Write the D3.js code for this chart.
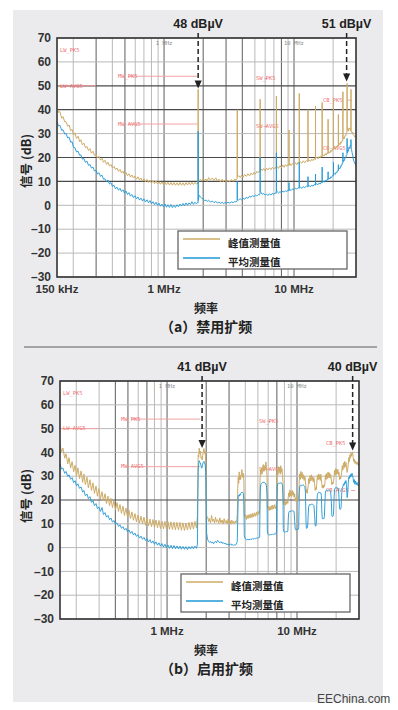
<!DOCTYPE html>
<html>
<head>
<meta charset="utf-8">
<script src="https://cdn.jsdelivr.net/npm/d3@7/dist/d3.min.js"></script>
<style>
  html, body { margin: 0; padding: 0; background: #fff; }
  svg { display: block; }
  text { font-family: "Liberation Sans", Arial, sans-serif; }
  .cjk { font-family: "Noto Sans CJK SC", "Noto Sans", sans-serif; }
  .mono { font-family: "DejaVu Sans Mono", monospace; }
</style>
</head>
<body>
<svg id="fig" width="398" height="710"></svg>
<script>
/* EMI scan, spread spectrum off (a) / on (b) */

const PEAK_COLOR = "#cdab66";
const AVG_COLOR  = "#2199d6";

// axes
const DB_TICKS   = [70, 60, 50, 40, 30, 20, 10, 0, -10, -20, -30];
const GRID_FREQS = [0.2,0.3,0.4,0.5,0.6,0.7,0.8,0.9,1,2,3,4,5,6,7,8,9,10,20];
const X_TICKS_A  = [0.15, 1, 10];
const X_LABELS_A = ["150 kHz", "1 MHz", "10 MHz"];
const X_TICKS_B  = [1, 10];
const X_LABELS_B = ["1 MHz", "10 MHz"];
const PLOT_MARKS = [[1, "1 MHz"], [10, "10 MHz"]];

// CISPR limit lines and their tags
const LIMITS = [
  [0.15, 0.3, 50], [0.53, 1.8, 54], [0.53, 1.8, 34],
  [5.9, 6.2, 53], [5.9, 6.2, 33], [26, 28, 44], [26, 28, 24],
];
const LIMIT_TAGS = [
  ["LW_PK5", 0.158, 65], ["LW-AVG5", 0.158, 50], ["MW_PK5", 0.442, 54], ["MW-AVG5", 0.442, 34],
  ["SW_PK5", 5.1, 53], ["SW-AVG5", 5.1, 33], ["CB_PK5", 16.7, 44], ["CB-AVG5", 16.7, 24],
];

const LEGEND = [["峰值测量值", PEAK_COLOR], ["平均测量值", AVG_COLOR]];

// marked peaks: [MHz, dBuV, label]
const MARKS_A = [[1.83, 48, "48 dBµV"], [25.4, 51, "51 dBµV"]];
const MARKS_B = [[1.86, 41, "41 dBµV"], [26.8, 40, "40 dBµV"]];

// low band frequency grid (MHz), shared by the left part of every trace
const FREQ_LOW = [
  0.150,0.154,0.158,0.163,0.167,0.172,0.176,0.181,0.186,0.191,
  0.196,0.201,0.206,0.212,0.218,0.224,0.229,0.235,0.242,0.248,
  0.255,0.262,0.269,0.276,0.284,0.291,0.299,0.307,0.316,0.324,
  0.333,0.342,0.351,0.361,0.370,0.380,0.390,0.401,0.412,0.423,
  0.434,0.446,0.458,0.470,0.483,0.496,0.509,0.523,0.537,0.551,
  0.566,0.581,0.597,0.613,0.630,0.647,0.664,0.682,0.700,0.719,
  0.739,0.759,0.779,0.800,0.822,0.844,0.866,0.890,0.914,0.938,
  0.963,0.989,1.016,1.043,1.071,1.100,1.130,1.160,1.191,1.224,
  1.257,1.290,1.325,1.361,1.397,1.435,1.474,1.513,1.554,1.596,
  1.639,1.683,1.728,
];

// (a) spread spectrum off
const PEAK_LOW_A = [
  40.6,38.9,39.2,36.4,37.1,34.9,35.0,33.1,33.6,31.2,
  31.8,29.4,30.3,28.0,28.9,26.6,27.4,25.3,26.0,24.1,
  24.6,22.9,23.7,21.8,22.6,20.9,21.4,19.8,20.5,18.9,
  19.6,18.0,18.8,17.1,18.0,16.4,17.1,15.6,16.3,14.9,
  15.6,14.2,15.0,13.5,14.3,12.9,13.8,12.4,13.2,11.8,
  12.7,11.4,12.3,10.9,11.9,10.6,11.4,10.1,11.1,9.8,
  10.8,9.6,10.5,9.3,10.4,9.1,10.2,9.0,9.9,8.8,
  9.8,8.7,9.7,8.6,9.6,8.5,9.6,8.4,9.5,8.4,
  9.4,8.3,9.5,8.4,9.4,8.3,9.5,8.5,9.6,8.6,
  9.7,8.7,9.6,
];
const AVG_LOW_A = [
  35.0,33.2,33.5,31.4,31.6,29.8,30.1,28.2,28.5,26.4,
  26.6,24.2,24.1,22.3,22.6,20.9,21.1,19.3,19.6,18.0,
  18.5,16.7,17.1,15.6,16.0,14.4,14.6,13.1,13.6,12.1,
  12.6,10.9,11.1,9.8,10.6,8.9,9.5,7.9,8.4,6.9,
  7.6,6.3,7.1,5.8,6.5,5.1,6.0,4.5,5.3,3.9,
  4.5,3.2,4.0,2.7,3.5,2.2,3.0,1.8,2.7,1.4,
  2.3,1.1,2.0,0.6,1.5,0.3,1.3,0.0,0.9,-0.4,
  0.5,-0.6,0.6,-0.8,0.2,-0.9,0.3,-1.0,0.0,-0.9,
  0.2,-0.6,0.5,-0.3,0.8,-0.2,1.0,0.0,1.0,0.3,
  1.5,0.4,1.3,
];
const PEAK_HIGH_A = [
  [1.775,8.8],[1.815,9.4],[1.826,9.0],[1.830,48.5],[1.834,9.6],[1.86,10.4],[1.9,10.9],[1.95,10.1],
  [2.0,11.2],[2.05,10.4],[2.1,11.0],[2.15,10.0],[2.2,11.6],[2.27,10.6],[2.35,11.4],[2.42,10.4],
  [2.5,11.5],[2.57,10.2],[2.65,10.9],[2.72,9.8],[2.8,10.9],[2.87,9.9],[2.95,10.6],[3.02,9.7],
  [3.1,10.5],[3.2,9.8],[3.3,10.8],[3.4,10.0],[3.5,11.0],[3.58,10.6],[3.652,11.2],[3.660,40.0],
  [3.668,11.8],[3.75,12.4],[3.85,11.6],[3.95,12.6],[4.05,11.7],[4.17,12.9],[4.3,12.1],[4.42,13.2],
  [4.55,12.3],[4.67,13.5],[4.8,12.7],[4.92,13.8],[5.05,13.0],[5.17,14.2],[5.3,13.6],[5.4,14.3],
  [5.48,14.0],[5.49,44.4],[5.50,14.6],[5.6,15.2],[5.7,14.5],[5.85,15.4],[6.0,14.3],[6.15,15.5],
  [6.3,14.8],[6.47,15.7],[6.65,14.9],[6.82,15.9],[7.0,15.2],[7.15,15.8],[7.31,15.4],[7.32,45.7],
  [7.33,15.9],[7.45,16.2],[7.6,15.4],[7.8,16.5],[8.0,15.8],[8.2,16.9],[8.4,15.9],[8.6,17.0],
  [8.8,16.3],[9.0,17.1],[9.14,16.6],[9.15,31.5],[9.16,16.9],[9.3,17.4],[9.5,16.6],[9.75,17.6],
  [10.0,16.9],[10.25,17.8],[10.5,17.0],[10.75,18.0],[10.97,17.4],[10.98,46.8],[10.99,17.9],[11.2,18.2],
  [11.5,17.6],[11.8,18.6],[12.1,17.8],[12.45,18.7],[12.8,18.2],[12.81,40.0],[12.82,18.6],[13.1,19.0],
  [13.4,18.4],[13.7,19.3],[14.0,18.7],[14.3,19.6],[14.62,19.1],[14.64,41.5],[14.66,19.6],[15.0,20.1],
  [15.3,19.5],[15.6,20.4],[15.9,19.9],[16.2,20.8],[16.45,20.2],[16.47,43.0],[16.49,20.9],[16.8,21.1],
  [17.1,20.6],[17.4,21.6],[17.7,21.0],[18.0,22.0],[18.28,21.5],[18.30,36.0],[18.32,22.0],[18.6,22.4],
  [18.9,21.9],[19.2,23.0],[19.5,22.5],[19.8,23.6],[20.11,23.2],[20.13,44.3],[20.15,23.9],[20.5,24.2],
  [20.8,23.6],[21.1,24.6],[21.4,24.1],[21.7,25.2],[21.94,24.8],[21.96,38.0],[21.98,25.4],[22.3,25.9],
  [22.6,25.3],[22.9,26.5],[23.2,26.0],[23.5,27.2],[23.77,27.0],[23.79,47.5],[23.81,27.8],[24.1,28.4],
  [24.4,27.9],[24.7,29.2],[25.0,29.0],[25.3,30.4],[25.59,30.6],[25.62,51.0],[25.65,31.4],[25.9,31.8],
  [26.2,31.0],[26.5,32.4],[26.8,31.8],[27.1,32.2],[27.42,31.2],[27.45,48.5],[27.48,30.8],[27.7,31.0],
  [28.0,30.2],[28.3,30.6],[28.6,29.6],[29.0,29.2],[29.4,28.6],[30.0,28.8],
];
const AVG_HIGH_A = [
  [1.775,0.6],[1.815,1.2],[1.826,1.0],[1.830,31.0],[1.834,2.0],[1.86,4.2],[1.9,3.6],[1.95,3.0],
  [2.0,2.6],[2.05,2.0],[2.1,2.2],[2.15,1.6],[2.2,2.1],[2.27,1.4],[2.35,1.8],[2.42,1.1],
  [2.5,1.6],[2.57,1.0],[2.65,1.4],[2.72,0.8],[2.8,1.3],[2.87,0.7],[2.95,1.2],[3.02,0.8],
  [3.1,1.3],[3.2,0.9],[3.3,1.4],[3.4,1.1],[3.5,1.6],[3.58,1.4],[3.652,1.8],[3.660,10.0],
  [3.668,2.4],[3.75,2.2],[3.85,2.8],[3.95,2.2],[4.05,3.0],[4.17,2.5],[4.3,3.4],[4.42,2.9],
  [4.55,3.8],[4.67,3.4],[4.8,4.1],[4.92,3.6],[5.05,4.2],[5.17,3.9],[5.3,4.5],[5.4,4.3],
  [5.48,4.6],[5.49,20.0],[5.50,5.8],[5.6,5.2],[5.7,4.6],[5.85,4.9],[6.0,4.3],[6.15,4.7],
  [6.3,4.1],[6.47,4.8],[6.65,4.3],[6.82,5.0],[7.0,4.6],[7.15,5.2],[7.31,5.0],[7.32,22.0],
  [7.33,6.0],[7.45,5.6],[7.6,5.2],[7.8,5.7],[8.0,5.3],[8.2,5.9],[8.4,5.5],[8.6,6.1],
  [8.8,5.8],[9.0,6.3],[9.14,6.0],[9.15,9.5],[9.16,6.3],[9.3,6.6],[9.5,6.2],[9.75,6.9],
  [10.0,6.5],[10.25,7.2],[10.5,6.8],[10.75,7.4],[10.97,7.1],[10.98,18.0],[10.99,7.6],[11.2,7.6],
  [11.5,7.1],[11.8,7.8],[12.1,7.4],[12.45,8.0],[12.8,7.7],[12.81,12.0],[12.82,8.0],[13.1,8.2],
  [13.4,7.8],[13.7,8.4],[14.0,8.0],[14.3,8.7],[14.62,8.4],[14.64,13.0],[14.66,8.8],[15.0,9.0],
  [15.3,8.6],[15.6,9.3],[15.9,8.9],[16.2,9.6],[16.45,9.3],[16.47,16.0],[16.49,9.8],[16.8,10.0],
  [17.1,9.6],[17.4,10.4],[17.7,10.1],[18.0,10.9],[18.28,10.6],[18.30,14.0],[18.32,11.0],[18.6,11.4],
  [18.9,11.0],[19.2,11.9],[19.5,11.6],[19.8,12.5],[20.11,12.3],[20.13,18.0],[20.15,12.8],[20.5,13.2],
  [20.8,12.9],[21.1,13.9],[21.4,13.7],[21.7,14.6],[21.94,14.4],[21.96,17.0],[21.98,15.0],[22.3,15.6],
  [22.6,15.3],[22.9,16.5],[23.2,16.4],[23.5,17.6],[23.77,17.6],[23.79,22.0],[23.81,18.2],[24.1,19.0],
  [24.4,18.7],[24.7,20.0],[25.0,19.8],[25.3,21.0],[25.59,21.2],[25.62,28.0],[25.65,22.0],[25.9,23.0],
  [26.2,22.6],[26.5,24.2],[26.8,23.8],[27.1,25.0],[27.42,24.6],[27.45,27.5],[27.48,24.0],[27.7,23.4],
  [28.0,22.0],[28.3,21.0],[28.6,19.4],[29.0,18.2],[29.4,17.4],[30.0,16.8],
];

// (b) spread spectrum on
const PEAK_LOW_B = [
  43.5,40.2,41.8,37.6,39.4,35.2,37.8,33.4,36.1,31.9,
  34.6,30.2,33.5,29.0,32.2,27.4,30.9,26.5,29.6,25.1,
  28.5,24.0,27.2,22.8,25.9,21.6,24.8,20.4,23.5,19.6,
  22.6,18.5,21.6,17.6,20.7,16.8,19.8,15.8,18.9,15.2,
  18.1,14.4,17.4,13.5,16.6,12.8,15.7,12.2,15.0,11.5,
  14.3,10.8,13.7,10.3,13.2,9.9,12.8,9.4,12.4,9.1,
  12.0,8.8,11.8,8.5,11.6,8.3,11.4,8.0,11.1,7.9,
  11.0,7.8,10.9,7.7,10.8,7.6,10.7,7.5,10.6,7.5,
  10.6,7.3,10.4,7.2,10.3,7.4,10.6,7.6,10.8,7.8,
  11.0,8.2,
];
const AVG_LOW_B = [
  35.2,33.0,33.4,31.2,32.0,29.9,30.6,28.7,29.4,27.3,
  28.1,26.0,26.8,24.9,25.5,23.3,24.0,21.8,22.5,20.6,
  21.4,19.0,19.8,17.6,18.5,16.4,17.0,15.2,16.8,13.9,
  14.7,12.8,13.5,11.7,12.4,10.7,11.4,9.8,10.4,8.9,
  9.6,8.1,8.8,7.4,8.1,6.7,7.4,6.0,6.8,5.3,
  6.1,4.7,5.4,4.0,4.8,3.5,4.3,3.0,3.8,2.4,
  3.3,1.9,2.8,1.4,2.4,1.0,2.0,0.6,1.7,0.2,
  1.4,-0.1,1.1,-0.3,1.0,-0.4,0.9,-0.5,0.7,-0.6,
  0.6,-0.7,0.5,-0.7,0.4,-0.8,0.4,-0.6,0.5,-0.5,
  0.6,-0.3,
];
const PEAK_HIGH_B = [
  [1.713,13.5],[1.725,30.0],[1.737,39.0],[1.752,38.0],[1.768,41.8],[1.787,39.4],[1.806,40.5],[1.825,37.6],
  [1.845,38.0],[1.862,36.8],[1.878,38.6],[1.90,40.2],[1.923,41.6],[1.945,39.5],[1.968,40.4],[1.982,36.0],
  [1.992,30.0],[2.005,18.0],[2.017,12.6],
  [2.05,13.0],[2.09,10.9],[2.12,12.2],[2.16,10.4],[2.2,13.5],[2.24,11.0],[2.28,12.0],[2.32,10.3],
  [2.36,12.8],[2.40,10.7],[2.45,11.8],[2.50,10.2],[2.55,12.5],[2.60,10.4],[2.65,11.6],[2.70,9.9],
  [2.75,12.2],[2.80,10.4],[2.85,11.4],[2.90,9.9],[2.95,12.0],[3.00,10.2],[3.05,11.3],[3.10,9.8],
  [3.15,11.6],[3.20,10.2],[3.25,11.0],[3.30,9.9],[3.35,11.2],[3.40,10.4],[3.44,11.8],
  [3.47,14.0],[3.50,25.0],[3.53,29.6],[3.56,27.0],[3.59,31.8],[3.62,28.5],[3.65,30.5],[3.68,28.6],
  [3.72,30.4],[3.77,32.8],[3.81,29.5],[3.86,31.2],[3.90,28.0],[3.93,14.5],
  [3.97,12.6],[4.02,13.8],[4.08,11.8],[4.14,13.6],[4.2,12.2],[4.27,13.9],[4.35,12.4],[4.42,14.2],
  [4.5,12.6],[4.57,14.4],[4.65,12.9],[4.72,14.6],[4.8,13.2],[4.88,15.0],[4.95,13.4],[5.03,15.2],[5.1,14.0],
  [5.16,16.0],[5.19,28.0],[5.23,32.8],[5.28,30.6],[5.33,33.4],[5.39,31.0],[5.45,33.8],[5.50,34.9],
  [5.56,32.0],[5.62,34.4],[5.68,32.6],[5.76,36.0],[5.82,33.5],[5.88,30.0],[5.91,17.0],
  [5.96,16.4],[6.03,17.4],[6.1,15.6],[6.18,17.2],[6.26,15.8],[6.34,17.6],[6.42,16.0],[6.5,17.8],
  [6.6,16.2],[6.7,18.0],[6.8,16.4],[6.9,17.6],
  [6.96,19.0],[7.0,28.5],[7.06,33.0],[7.12,30.4],[7.2,34.0],[7.27,31.5],[7.35,33.6],[7.43,30.8],
  [7.5,34.4],[7.58,31.6],[7.66,33.2],[7.74,30.2],[7.81,27.0],[7.84,19.5],
  [7.9,18.0],[8.0,19.6],[8.1,17.8],[8.2,19.4],[8.3,18.2],[8.4,19.8],[8.5,18.6],
  [8.57,21.5],[8.63,23.0],[8.72,21.2],[8.8,24.2],[8.9,21.8],[9.0,23.6],[9.1,21.5],[9.2,24.0],
  [9.3,22.0],[9.4,23.4],[9.5,21.2],[9.6,22.6],
  [9.7,19.5],[9.8,20.8],[9.9,19.2],[10.0,21.0],[10.1,19.8],[10.2,21.4],[10.3,20.6],
  [10.36,24.0],[10.42,28.5],[10.5,31.0],[10.6,28.6],[10.7,32.0],[10.82,29.4],[10.95,31.6],[11.08,28.8],
  [11.2,30.6],[11.35,28.2],[11.5,30.0],[11.62,27.6],[11.72,25.0],
  [11.8,23.0],[11.9,24.4],[12.0,22.8],[12.1,24.6],
  [12.2,26.0],[12.3,29.0],[12.45,27.0],[12.6,30.2],[12.75,28.0],[12.9,30.6],[13.05,28.2],[13.2,29.8],
  [13.35,27.6],[13.5,29.4],[13.65,27.0],
  [13.8,24.0],[13.95,25.2],[14.08,24.4],
  [14.2,27.0],[14.35,30.4],[14.5,28.4],[14.65,31.0],[14.8,28.8],[14.95,30.6],[15.1,28.2],[15.25,30.8],
  [15.4,28.6],[15.5,27.0],
  [15.65,25.0],[15.8,26.2],[15.95,25.0],[16.1,26.4],[16.25,25.6],
  [16.4,27.0],[16.55,30.6],[16.75,28.6],[16.95,31.2],[17.15,29.0],[17.35,31.8],[17.55,29.4],[17.75,31.4],
  [17.95,29.2],[18.15,30.8],[18.35,28.8],
  [18.55,26.4],[18.75,27.6],[18.95,26.8],[19.1,27.8],
  [19.25,29.0],[19.45,32.4],[19.65,30.4],[19.85,33.2],[20.05,30.8],[20.25,33.0],[20.45,31.0],[20.65,32.8],
  [20.85,30.6],[21.05,31.6],
  [21.25,28.6],[21.45,29.8],[21.65,28.8],[21.85,30.0],
  [22.05,31.5],[22.3,34.4],[22.55,32.6],[22.8,35.6],[23.05,33.4],[23.3,36.2],[23.55,34.0],[23.8,35.8],
  [24.05,33.6],[24.3,31.6],[24.55,33.0],
  [24.8,35.0],[25.05,37.8],[25.3,36.2],[25.55,39.0],[25.8,37.6],[26.05,40.0],[26.3,38.4],[26.55,39.4],
  [26.8,40.2],[27.05,38.0],[27.3,36.2],[27.6,37.2],[27.9,35.4],[28.2,36.4],[28.6,35.0],[29.0,36.0],
  [29.5,34.6],[30.0,35.4],
];
const AVG_HIGH_B = [
  [1.713,1.5],[1.725,20.0],[1.737,33.0],[1.752,35.0],[1.768,36.5],[1.787,35.8],[1.806,35.6],[1.825,34.4],
  [1.845,33.4],[1.862,33.8],[1.878,35.0],[1.90,35.8],[1.923,36.2],[1.945,35.6],[1.968,34.6],[1.982,31.5],
  [1.992,28.0],[2.005,12.0],[2.017,6.0],
  [2.05,3.4],[2.09,2.6],[2.12,2.2],[2.16,2.6],[2.2,1.9],[2.24,2.4],[2.28,1.6],[2.32,2.2],
  [2.36,2.7],[2.40,2.1],[2.45,3.0],[2.50,2.4],[2.55,2.0],[2.60,2.5],[2.65,1.8],[2.70,2.2],
  [2.75,1.6],[2.80,1.9],[2.85,1.3],[2.90,1.6],[2.95,1.1],[3.00,1.5],[3.05,1.2],[3.10,1.6],
  [3.15,1.0],[3.20,1.3],[3.25,0.9],[3.30,1.2],[3.35,1.0],[3.40,1.4],[3.44,2.0],
  [3.47,2.6],[3.50,12.0],[3.53,21.4],[3.56,22.0],[3.59,21.6],[3.62,22.4],[3.65,22.0],[3.68,22.6],
  [3.72,23.0],[3.77,23.4],[3.81,23.2],[3.86,22.8],[3.90,20.0],[3.93,5.0],
  [3.97,4.0],[4.02,3.6],[4.08,3.3],[4.14,3.6],[4.2,3.2],[4.27,3.5],[4.35,3.3],[4.42,3.7],
  [4.5,3.4],[4.57,3.8],[4.65,3.6],[4.72,3.9],[4.8,3.7],[4.88,4.0],[4.95,3.9],[5.03,4.2],[5.1,4.1],
  [5.16,4.4],[5.19,18.0],[5.23,25.5],[5.28,26.6],[5.33,27.0],[5.39,27.2],[5.45,27.4],[5.50,27.6],
  [5.56,27.2],[5.62,27.4],[5.68,27.0],[5.76,26.8],[5.82,26.0],[5.88,22.0],[5.91,7.0],
  [5.96,5.8],[6.03,5.4],[6.1,5.2],[6.18,5.5],[6.26,5.3],[6.34,5.6],[6.42,5.4],[6.5,5.7],
  [6.6,5.5],[6.7,5.8],[6.8,5.6],[6.9,6.0],
  [6.96,7.0],[7.0,18.0],[7.06,25.8],[7.12,26.8],[7.2,27.0],[7.27,27.2],[7.35,27.0],[7.43,27.3],
  [7.5,27.1],[7.58,27.2],[7.66,26.8],[7.74,26.0],[7.81,20.0],[7.84,8.0],
  [7.9,6.8],[8.0,6.5],[8.1,6.7],[8.2,6.5],[8.3,6.8],[8.4,6.6],[8.5,7.0],
  [8.57,12.0],[8.63,14.6],[8.72,15.2],[8.8,15.0],[8.9,15.4],[9.0,15.2],[9.1,15.5],[9.2,15.3],
  [9.3,15.6],[9.4,15.4],[9.5,15.0],[9.6,11.0],
  [9.7,7.6],[9.8,7.4],[9.9,7.6],[10.0,7.5],[10.1,7.8],[10.2,7.6],[10.3,8.4],
  [10.36,16.0],[10.42,23.5],[10.5,25.6],[10.6,26.0],[10.7,26.2],[10.82,26.0],[10.95,26.4],[11.08,26.1],
  [11.2,26.3],[11.35,26.0],[11.5,25.6],[11.62,23.0],[11.72,12.0],
  [11.8,8.2],[11.9,8.0],[12.0,8.4],[12.1,9.5],
  [12.2,14.0],[12.3,17.2],[12.45,18.0],[12.6,18.2],[12.75,18.0],[12.9,18.3],[13.05,18.1],[13.2,18.2],
  [13.35,18.0],[13.5,17.6],[13.65,14.0],
  [13.8,9.2],[13.95,9.0],[14.08,10.0],
  [14.2,18.0],[14.35,22.2],[14.5,23.0],[14.65,23.2],[14.8,23.0],[14.95,23.3],[15.1,23.1],[15.25,23.0],
  [15.4,22.0],[15.5,16.0],
  [15.65,12.2],[15.8,12.0],[15.95,12.3],[16.1,12.1],[16.25,13.0],
  [16.4,19.0],[16.55,23.4],[16.75,24.0],[16.95,24.2],[17.15,24.0],[17.35,24.3],[17.55,24.1],[17.75,24.2],
  [17.95,24.0],[18.15,23.6],[18.35,20.0],
  [18.55,13.4],[18.75,13.0],[18.95,13.2],[19.1,14.0],
  [19.25,20.0],[19.45,24.4],[19.65,25.0],[19.85,25.2],[20.05,25.0],[20.25,25.3],[20.45,25.1],[20.65,25.0],
  [20.85,24.6],[21.05,21.0],
  [21.25,16.4],[21.45,16.0],[21.65,16.2],[21.85,17.0],
  [22.05,22.0],[22.3,25.0],[22.55,25.6],[22.8,26.8],[23.05,26.2],[23.3,27.6],[23.55,27.0],[23.8,28.2],
  [24.05,26.4],[24.3,21.0],[24.55,22.6],
  [24.8,27.0],[25.05,29.6],[25.3,29.0],[25.55,30.4],[25.8,29.6],[26.05,31.0],[26.3,30.0],[26.55,31.2],
  [26.8,30.2],[27.05,29.0],[27.3,27.4],[27.6,28.6],[27.9,26.6],[28.2,28.0],[28.6,26.4],[29.0,27.4],
  [29.5,26.0],[30.0,26.6],
];

const svg = d3.select("#fig");

// grey card + divider
svg.append("rect").attr("x", 13).attr("y", 10).attr("width", 370).attr("height", 692).attr("fill", "#ebebed");
svg.append("line").attr("x1", 24).attr("x2", 377).attr("y1", 347).attr("y2", 347)
  .attr("stroke", "#5c5c5c").attr("stroke-width", 1.2);

function drawChart(c) {
  const x = d3.scaleLog().domain([0.15, 30]).range([c.left, c.right]);
  const y = d3.scaleLinear().domain([-30, 70]).range([c.bottom, c.top]);
  const g = svg.append("g");
  const pw = c.right - c.left, ph = c.bottom - c.top;

  g.append("rect").attr("x", c.left).attr("y", c.top).attr("width", pw).attr("height", ph).attr("fill", "#fff");

  // grid
  g.append("g").selectAll("line").data(GRID_FREQS).join("line")
    .attr("x1", d => x(d)).attr("x2", d => x(d))
    .attr("y1", c.top).attr("y2", c.bottom)
    .attr("stroke", d => c.darkF.includes(d) ? "#5e5e5e" : "#b9b9b9")
    .attr("stroke-width", 1);
  g.append("g").selectAll("line").data(DB_TICKS).join("line")
    .attr("x1", c.left).attr("x2", c.right)
    .attr("y1", d => y(d)).attr("y2", d => y(d))
    .attr("stroke", d => c.darkDb.includes(d) ? "#4a4a4a" : "#b9b9b9")
    .attr("stroke-width", d => c.darkDb.includes(d) ? 1.2 : 1);

  g.append("g").selectAll("text").data(PLOT_MARKS).join("text")
    .attr("class", "mono")
    .attr("x", d => x(d[0])).attr("y", c.top + 6.5)
    .attr("text-anchor", "middle").attr("font-size", 5.5).attr("fill", "#888")
    .text(d => d[1]);

  // limits
  g.append("g").selectAll("line").data(LIMITS).join("line")
    .attr("x1", d => x(d[0])).attr("x2", d => x(d[1]))
    .attr("y1", d => y(d[2])).attr("y2", d => y(d[2]))
    .attr("stroke", "#f3a3a3").attr("stroke-width", 1);
  g.append("g").selectAll("text").data(LIMIT_TAGS).join("text")
    .attr("class", "mono")
    .attr("x", d => x(d[1])).attr("y", d => y(d[2]) + 1.8)
    .attr("font-size", 5.4).attr("fill", "#f07272")
    .text(d => d[0]);

  // traces
  const clipId = "clip-" + c.id;
  g.append("clipPath").attr("id", clipId).append("rect")
    .attr("x", c.left).attr("y", c.top).attr("width", pw).attr("height", ph);
  const line = d3.line().x(d => x(d[0])).y(d => y(d[1]));
  const peak = d3.zip(FREQ_LOW, c.peakLow).filter(d => d[0] < c.peakHigh[0][0]).concat(c.peakHigh);
  const avg  = d3.zip(FREQ_LOW, c.avgLow).filter(d => d[0] < c.avgHigh[0][0]).concat(c.avgHigh);
  g.append("path").datum(peak).attr("d", line).attr("fill", "none")
    .attr("stroke", PEAK_COLOR).attr("stroke-width", 1).attr("clip-path", `url(#${clipId})`);
  g.append("path").datum(avg).attr("d", line).attr("fill", "none")
    .attr("stroke", AVG_COLOR).attr("stroke-width", 1).attr("stroke-opacity", 0.92)
    .attr("clip-path", `url(#${clipId})`);

  // frame
  g.append("rect").attr("x", c.left).attr("y", c.top).attr("width", pw).attr("height", ph)
    .attr("fill", "none").attr("stroke", "#333").attr("stroke-width", 1.6);

  // y ticks
  g.append("g").selectAll("text").data(DB_TICKS).join("text")
    .attr("x", c.left - 6).attr("y", d => y(d) + 4.2)
    .attr("text-anchor", "end").attr("font-size", 12).attr("font-weight", "bold").attr("fill", "#333")
    .text(d => d < 0 ? "\u2013" + Math.abs(d) : d);

  // x ticks
  g.append("g").selectAll("text").data(c.xTicks).join("text")
    .attr("x", d => x(d)).attr("y", c.bottom + 16)
    .attr("text-anchor", "middle").attr("font-size", 11.5).attr("font-weight", "bold").attr("fill", "#333")
    .text((d, i) => c.xLabels[i]);

  // legend
  const lx = c.left + 121, ly = c.top + 193;
  g.append("rect").attr("x", lx).attr("y", ly).attr("width", 169).attr("height", 38)
    .attr("fill", "#fff").attr("stroke", "#666").attr("stroke-width", 1.3);
  const item = g.append("g").selectAll("g").data(LEGEND).join("g")
    .attr("transform", (d, i) => `translate(${lx},${ly + 8 + i * 19})`);
  item.append("line").attr("x1", 5).attr("x2", 42).attr("y1", 0).attr("y2", 0)
    .attr("stroke", d => d[1]).attr("stroke-width", 1.6);
  item.append("text").attr("class", "cjk").attr("x", 50).attr("y", 7.5)
    .attr("font-size", 10.5).attr("font-weight", "bold").attr("fill", "#222")
    .text(d => d[0]);

  // marked peaks
  const mk = g.append("g").selectAll("g").data(c.marks).join("g");
  mk.append("text")
    .attr("x", d => x(d[0])).attr("y", c.top - 10.5)
    .attr("text-anchor", "middle").attr("font-size", 12.5).attr("font-weight", "bold").attr("fill", "#222")
    .text(d => d[2]);
  mk.append("line")
    .attr("x1", d => x(d[0])).attr("x2", d => x(d[0]))
    .attr("y1", c.top - 5).attr("y2", d => y(d[1]) - 9)
    .attr("stroke", "#222").attr("stroke-width", 1.5).attr("stroke-dasharray", "5,3");
  mk.append("path")
    .attr("d", d => { const ax = x(d[0]), ty = y(d[1]) - 2;
      return `M${ax - 3.6},${ty - 8}L${ax + 3.6},${ty - 8}L${ax},${ty}Z`; })
    .attr("fill", "#222");

  // titles
  g.append("text").attr("class", "cjk")
    .attr("transform", `translate(31,${c.yTitleY}) rotate(-90)`)
    .attr("text-anchor", "middle").attr("font-size", 12.5).attr("font-weight", "bold").attr("fill", "#222")
    .text("信号 (dB)");
  g.append("text").attr("class", "cjk").attr("x", 194).attr("y", c.bottom + 36)
    .attr("font-size", 12).attr("font-weight", "bold").attr("fill", "#222").text("频率");
  g.append("text").attr("class", "cjk").attr("x", 160).attr("y", c.bottom + 55)
    .attr("font-size", 14).attr("font-weight", "bold").attr("fill", "#222").text(c.caption);
}

drawChart({
  id: "a", left: 57, right: 356, top: 38, bottom: 277, yTitleY: 161,
  darkF: [0.3, 0.5, 1, 2, 3, 4, 8, 10], darkDb: [50, 40, 20, 10],
  xTicks: X_TICKS_A, xLabels: X_LABELS_A, marks: MARKS_A,
  peakLow: PEAK_LOW_A, avgLow: AVG_LOW_A, peakHigh: PEAK_HIGH_A, avgHigh: AVG_HIGH_A,
  caption: "（a）禁用扩频",
});
drawChart({
  id: "b", left: 60, right: 359, top: 381, bottom: 619, yTitleY: 496,
  darkF: [0.4, 0.5, 0.7, 1, 2, 3, 7, 10], darkDb: [20],
  xTicks: X_TICKS_B, xLabels: X_LABELS_B, marks: MARKS_B,
  peakLow: PEAK_LOW_B, avgLow: AVG_LOW_B, peakHigh: PEAK_HIGH_B, avgHigh: AVG_HIGH_B,
  caption: "（b）启用扩频",
});

svg.append("text").attr("x", 317).attr("y", 703)
  .attr("font-size", 12).attr("fill", "#444").text("EEChina.com");
</script>
</body>
</html>
